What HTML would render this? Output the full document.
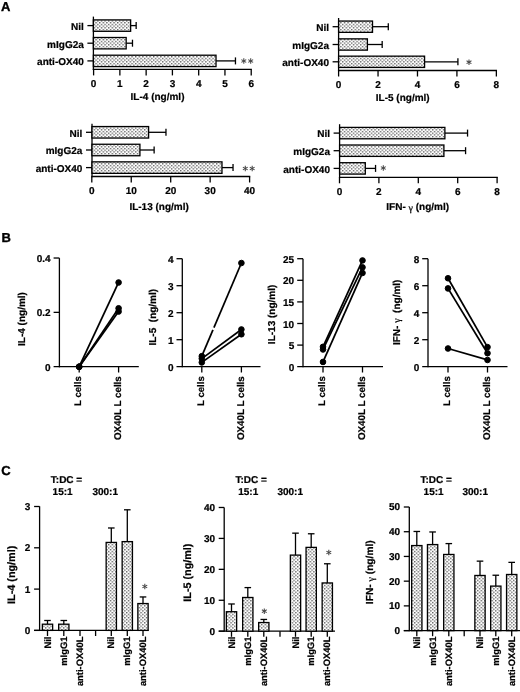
<!DOCTYPE html>
<html><head><meta charset="utf-8"><style>
html,body{margin:0;padding:0;background:#fff;}
body{width:520px;height:692px;overflow:hidden;}
svg{display:block;font-family:"Liberation Sans",sans-serif;text-rendering:geometricPrecision;filter:blur(0.3px);}
</style></head><body>
<svg width="520" height="692" viewBox="0 0 520 692">
<defs>
<pattern id="dots" patternUnits="userSpaceOnUse" width="3.6" height="3.4">
<rect width="3.6" height="3.4" fill="#fff"/>
<rect x="0" y="0" width="1.4" height="1.3" fill="#5c5c5c"/>
<rect x="1.8" y="1.7" width="1.4" height="1.3" fill="#5c5c5c"/>
</pattern>
</defs>
<rect width="520" height="692" fill="#fff"/>
<g stroke="#000" fill="#000" stroke-linecap="butt">
<text x="0.90" y="10.60" text-anchor="start" font-size="13" font-weight="bold" stroke="#000" stroke-width="0.35">A</text>
<line x1="93.40" y1="16.60" x2="93.40" y2="70.05" stroke-width="1.3"/>
<line x1="92.75" y1="69.40" x2="251.87" y2="69.40" stroke-width="1.3"/>
<line x1="93.60" y1="69.40" x2="93.60" y2="75.40" stroke-width="1.3"/>
<text x="93.60" y="87.20" text-anchor="middle" font-size="10" font-weight="bold" stroke="#000" stroke-width="0.22">0</text>
<line x1="119.87" y1="69.40" x2="119.87" y2="75.40" stroke-width="1.3"/>
<text x="119.87" y="87.20" text-anchor="middle" font-size="10" font-weight="bold" stroke="#000" stroke-width="0.22">1</text>
<line x1="146.14" y1="69.40" x2="146.14" y2="75.40" stroke-width="1.3"/>
<text x="146.14" y="87.20" text-anchor="middle" font-size="10" font-weight="bold" stroke="#000" stroke-width="0.22">2</text>
<line x1="172.41" y1="69.40" x2="172.41" y2="75.40" stroke-width="1.3"/>
<text x="172.41" y="87.20" text-anchor="middle" font-size="10" font-weight="bold" stroke="#000" stroke-width="0.22">3</text>
<line x1="198.68" y1="69.40" x2="198.68" y2="75.40" stroke-width="1.3"/>
<text x="198.68" y="87.20" text-anchor="middle" font-size="10" font-weight="bold" stroke="#000" stroke-width="0.22">4</text>
<line x1="224.95" y1="69.40" x2="224.95" y2="75.40" stroke-width="1.3"/>
<text x="224.95" y="87.20" text-anchor="middle" font-size="10" font-weight="bold" stroke="#000" stroke-width="0.22">5</text>
<line x1="251.22" y1="69.40" x2="251.22" y2="75.40" stroke-width="1.3"/>
<text x="251.22" y="87.20" text-anchor="middle" font-size="10" font-weight="bold" stroke="#000" stroke-width="0.22">6</text>
<line x1="87.40" y1="25.60" x2="93.40" y2="25.60" stroke-width="1.3"/>
<text x="83.80" y="29.90" text-anchor="end" font-size="10" font-weight="bold" stroke="#000" stroke-width="0.22">Nil</text>
<line x1="130.64" y1="25.60" x2="136.16" y2="25.60" stroke-width="1.3"/>
<line x1="136.16" y1="22.10" x2="136.16" y2="29.10" stroke-width="1.3"/>
<rect x="93.40" y="19.90" width="37.24" height="11.40" fill="url(#dots)" stroke="#000" stroke-width="1.3"/>
<line x1="87.40" y1="43.20" x2="93.40" y2="43.20" stroke-width="1.3"/>
<text x="83.80" y="47.50" text-anchor="end" font-size="10" font-weight="bold" stroke="#000" stroke-width="0.22">mIgG2a</text>
<line x1="126.17" y1="43.20" x2="132.48" y2="43.20" stroke-width="1.3"/>
<line x1="132.48" y1="39.70" x2="132.48" y2="46.70" stroke-width="1.3"/>
<rect x="93.40" y="37.50" width="32.77" height="11.40" fill="url(#dots)" stroke="#000" stroke-width="1.3"/>
<line x1="87.40" y1="60.90" x2="93.40" y2="60.90" stroke-width="1.3"/>
<text x="83.80" y="65.20" text-anchor="end" font-size="10" font-weight="bold" stroke="#000" stroke-width="0.22">anti-OX40</text>
<line x1="216.02" y1="60.90" x2="235.46" y2="60.90" stroke-width="1.3"/>
<line x1="235.46" y1="57.40" x2="235.46" y2="64.40" stroke-width="1.3"/>
<rect x="93.40" y="55.20" width="122.62" height="11.40" fill="url(#dots)" stroke="#000" stroke-width="1.3"/>
<text x="130.60" y="99.70" text-anchor="start" font-size="10" font-weight="bold" stroke="#000" stroke-width="0.22">IL-4 (ng/ml)</text>
<line x1="243.80" y1="58.20" x2="243.80" y2="63.80" stroke="#444" stroke-width="1.05"/>
<line x1="241.38" y1="59.60" x2="246.22" y2="62.40" stroke="#444" stroke-width="1.05"/>
<line x1="246.22" y1="59.60" x2="241.38" y2="62.40" stroke="#444" stroke-width="1.05"/>
<line x1="250.70" y1="58.20" x2="250.70" y2="63.80" stroke="#444" stroke-width="1.05"/>
<line x1="248.28" y1="59.60" x2="253.12" y2="62.40" stroke="#444" stroke-width="1.05"/>
<line x1="253.12" y1="59.60" x2="248.28" y2="62.40" stroke="#444" stroke-width="1.05"/>
<line x1="338.60" y1="18.00" x2="338.60" y2="71.15" stroke-width="1.3"/>
<line x1="337.95" y1="70.50" x2="497.01" y2="70.50" stroke-width="1.3"/>
<line x1="338.60" y1="70.50" x2="338.60" y2="76.50" stroke-width="1.3"/>
<text x="338.60" y="88.00" text-anchor="middle" font-size="10" font-weight="bold" stroke="#000" stroke-width="0.22">0</text>
<line x1="378.04" y1="70.50" x2="378.04" y2="76.50" stroke-width="1.3"/>
<text x="378.04" y="88.00" text-anchor="middle" font-size="10" font-weight="bold" stroke="#000" stroke-width="0.22">2</text>
<line x1="417.48" y1="70.50" x2="417.48" y2="76.50" stroke-width="1.3"/>
<text x="417.48" y="88.00" text-anchor="middle" font-size="10" font-weight="bold" stroke="#000" stroke-width="0.22">4</text>
<line x1="456.92" y1="70.50" x2="456.92" y2="76.50" stroke-width="1.3"/>
<text x="456.92" y="88.00" text-anchor="middle" font-size="10" font-weight="bold" stroke="#000" stroke-width="0.22">6</text>
<line x1="496.36" y1="70.50" x2="496.36" y2="76.50" stroke-width="1.3"/>
<text x="496.36" y="88.00" text-anchor="middle" font-size="10" font-weight="bold" stroke="#000" stroke-width="0.22">8</text>
<line x1="332.60" y1="26.70" x2="338.60" y2="26.70" stroke-width="1.3"/>
<text x="329.00" y="31.00" text-anchor="end" font-size="10" font-weight="bold" stroke="#000" stroke-width="0.22">Nil</text>
<line x1="372.52" y1="26.70" x2="388.29" y2="26.70" stroke-width="1.3"/>
<line x1="388.29" y1="23.20" x2="388.29" y2="30.20" stroke-width="1.3"/>
<rect x="338.60" y="21.05" width="33.92" height="11.30" fill="url(#dots)" stroke="#000" stroke-width="1.3"/>
<line x1="332.60" y1="44.50" x2="338.60" y2="44.50" stroke-width="1.3"/>
<text x="329.00" y="48.80" text-anchor="end" font-size="10" font-weight="bold" stroke="#000" stroke-width="0.22">mIgG2a</text>
<line x1="367.39" y1="44.50" x2="382.18" y2="44.50" stroke-width="1.3"/>
<line x1="382.18" y1="41.00" x2="382.18" y2="48.00" stroke-width="1.3"/>
<rect x="338.60" y="38.85" width="28.79" height="11.30" fill="url(#dots)" stroke="#000" stroke-width="1.3"/>
<line x1="332.60" y1="61.80" x2="338.60" y2="61.80" stroke-width="1.3"/>
<text x="329.00" y="66.10" text-anchor="end" font-size="10" font-weight="bold" stroke="#000" stroke-width="0.22">anti-OX40</text>
<line x1="424.58" y1="61.80" x2="457.91" y2="61.80" stroke-width="1.3"/>
<line x1="457.91" y1="58.30" x2="457.91" y2="65.30" stroke-width="1.3"/>
<rect x="338.60" y="56.15" width="85.98" height="11.30" fill="url(#dots)" stroke="#000" stroke-width="1.3"/>
<text x="375.80" y="101.40" text-anchor="start" font-size="10" font-weight="bold" stroke="#000" stroke-width="0.22">IL-5 (ng/ml)</text>
<line x1="469.00" y1="59.40" x2="469.00" y2="65.00" stroke="#444" stroke-width="1.05"/>
<line x1="466.58" y1="60.80" x2="471.42" y2="63.60" stroke="#444" stroke-width="1.05"/>
<line x1="471.42" y1="60.80" x2="466.58" y2="63.60" stroke="#444" stroke-width="1.05"/>
<line x1="92.00" y1="123.70" x2="92.00" y2="177.15" stroke-width="1.3"/>
<line x1="91.35" y1="176.50" x2="250.25" y2="176.50" stroke-width="1.3"/>
<line x1="91.80" y1="176.50" x2="91.80" y2="182.50" stroke-width="1.3"/>
<text x="91.80" y="194.20" text-anchor="middle" font-size="10" font-weight="bold" stroke="#000" stroke-width="0.22">0</text>
<line x1="131.25" y1="176.50" x2="131.25" y2="182.50" stroke-width="1.3"/>
<text x="131.25" y="194.20" text-anchor="middle" font-size="10" font-weight="bold" stroke="#000" stroke-width="0.22">10</text>
<line x1="170.70" y1="176.50" x2="170.70" y2="182.50" stroke-width="1.3"/>
<text x="170.70" y="194.20" text-anchor="middle" font-size="10" font-weight="bold" stroke="#000" stroke-width="0.22">20</text>
<line x1="210.15" y1="176.50" x2="210.15" y2="182.50" stroke-width="1.3"/>
<text x="210.15" y="194.20" text-anchor="middle" font-size="10" font-weight="bold" stroke="#000" stroke-width="0.22">30</text>
<line x1="249.60" y1="176.50" x2="249.60" y2="182.50" stroke-width="1.3"/>
<text x="249.60" y="194.20" text-anchor="middle" font-size="10" font-weight="bold" stroke="#000" stroke-width="0.22">40</text>
<line x1="86.00" y1="132.30" x2="92.00" y2="132.30" stroke-width="1.3"/>
<text x="82.40" y="136.60" text-anchor="end" font-size="10" font-weight="bold" stroke="#000" stroke-width="0.22">Nil</text>
<line x1="148.61" y1="132.30" x2="165.97" y2="132.30" stroke-width="1.3"/>
<line x1="165.97" y1="128.80" x2="165.97" y2="135.80" stroke-width="1.3"/>
<rect x="92.00" y="126.55" width="56.61" height="11.50" fill="url(#dots)" stroke="#000" stroke-width="1.3"/>
<line x1="86.00" y1="150.00" x2="92.00" y2="150.00" stroke-width="1.3"/>
<text x="82.40" y="154.30" text-anchor="end" font-size="10" font-weight="bold" stroke="#000" stroke-width="0.22">mIgG2a</text>
<line x1="139.93" y1="150.00" x2="154.13" y2="150.00" stroke-width="1.3"/>
<line x1="154.13" y1="146.50" x2="154.13" y2="153.50" stroke-width="1.3"/>
<rect x="92.00" y="144.25" width="47.93" height="11.50" fill="url(#dots)" stroke="#000" stroke-width="1.3"/>
<line x1="86.00" y1="167.60" x2="92.00" y2="167.60" stroke-width="1.3"/>
<text x="82.40" y="171.90" text-anchor="end" font-size="10" font-weight="bold" stroke="#000" stroke-width="0.22">anti-OX40</text>
<line x1="221.99" y1="167.60" x2="233.03" y2="167.60" stroke-width="1.3"/>
<line x1="233.03" y1="164.10" x2="233.03" y2="171.10" stroke-width="1.3"/>
<rect x="92.00" y="161.85" width="129.99" height="11.50" fill="url(#dots)" stroke="#000" stroke-width="1.3"/>
<text x="129.40" y="210.20" text-anchor="start" font-size="10" font-weight="bold" stroke="#000" stroke-width="0.22">IL-13 (ng/ml)</text>
<line x1="245.30" y1="165.70" x2="245.30" y2="171.30" stroke="#444" stroke-width="1.05"/>
<line x1="242.88" y1="167.10" x2="247.72" y2="169.90" stroke="#444" stroke-width="1.05"/>
<line x1="247.72" y1="167.10" x2="242.88" y2="169.90" stroke="#444" stroke-width="1.05"/>
<line x1="252.20" y1="165.70" x2="252.20" y2="171.30" stroke="#444" stroke-width="1.05"/>
<line x1="249.78" y1="167.10" x2="254.62" y2="169.90" stroke="#444" stroke-width="1.05"/>
<line x1="254.62" y1="167.10" x2="249.78" y2="169.90" stroke="#444" stroke-width="1.05"/>
<line x1="339.60" y1="124.20" x2="339.60" y2="177.95" stroke-width="1.3"/>
<line x1="338.95" y1="177.30" x2="497.75" y2="177.30" stroke-width="1.3"/>
<line x1="339.50" y1="177.30" x2="339.50" y2="183.30" stroke-width="1.3"/>
<text x="339.50" y="194.60" text-anchor="middle" font-size="10" font-weight="bold" stroke="#000" stroke-width="0.22">0</text>
<line x1="378.90" y1="177.30" x2="378.90" y2="183.30" stroke-width="1.3"/>
<text x="378.90" y="194.60" text-anchor="middle" font-size="10" font-weight="bold" stroke="#000" stroke-width="0.22">2</text>
<line x1="418.30" y1="177.30" x2="418.30" y2="183.30" stroke-width="1.3"/>
<text x="418.30" y="194.60" text-anchor="middle" font-size="10" font-weight="bold" stroke="#000" stroke-width="0.22">4</text>
<line x1="457.70" y1="177.30" x2="457.70" y2="183.30" stroke-width="1.3"/>
<text x="457.70" y="194.60" text-anchor="middle" font-size="10" font-weight="bold" stroke="#000" stroke-width="0.22">6</text>
<line x1="497.10" y1="177.30" x2="497.10" y2="183.30" stroke-width="1.3"/>
<text x="497.10" y="194.60" text-anchor="middle" font-size="10" font-weight="bold" stroke="#000" stroke-width="0.22">8</text>
<line x1="333.60" y1="133.10" x2="339.60" y2="133.10" stroke-width="1.3"/>
<text x="330.00" y="137.40" text-anchor="end" font-size="10" font-weight="bold" stroke="#000" stroke-width="0.22">Nil</text>
<line x1="444.89" y1="133.10" x2="467.55" y2="133.10" stroke-width="1.3"/>
<line x1="467.55" y1="129.60" x2="467.55" y2="136.60" stroke-width="1.3"/>
<rect x="339.60" y="127.40" width="105.29" height="11.40" fill="url(#dots)" stroke="#000" stroke-width="1.3"/>
<line x1="333.60" y1="150.70" x2="339.60" y2="150.70" stroke-width="1.3"/>
<text x="330.00" y="155.00" text-anchor="end" font-size="10" font-weight="bold" stroke="#000" stroke-width="0.22">mIgG2a</text>
<line x1="443.91" y1="150.70" x2="465.58" y2="150.70" stroke-width="1.3"/>
<line x1="465.58" y1="147.20" x2="465.58" y2="154.20" stroke-width="1.3"/>
<rect x="339.60" y="145.00" width="104.31" height="11.40" fill="url(#dots)" stroke="#000" stroke-width="1.3"/>
<line x1="333.60" y1="168.40" x2="339.60" y2="168.40" stroke-width="1.3"/>
<text x="330.00" y="172.70" text-anchor="end" font-size="10" font-weight="bold" stroke="#000" stroke-width="0.22">anti-OX40</text>
<line x1="365.31" y1="168.40" x2="375.55" y2="168.40" stroke-width="1.3"/>
<line x1="375.55" y1="164.90" x2="375.55" y2="171.90" stroke-width="1.3"/>
<rect x="339.60" y="162.70" width="25.71" height="11.40" fill="url(#dots)" stroke="#000" stroke-width="1.3"/>
<text x="386.30" y="210.40" text-anchor="start" font-size="10" font-weight="bold" stroke="#000" stroke-width="0.22">IFN- <tspan font-weight="normal" font-family="Liberation Serif" font-size="10" dy="0.6">γ</tspan><tspan dy="-0.6"> (ng/ml)</tspan></text>
<line x1="383.30" y1="165.20" x2="383.30" y2="170.80" stroke="#444" stroke-width="1.05"/>
<line x1="380.88" y1="166.60" x2="385.72" y2="169.40" stroke="#444" stroke-width="1.05"/>
<line x1="385.72" y1="166.60" x2="380.88" y2="169.40" stroke="#444" stroke-width="1.05"/>
<text x="1.60" y="241.80" text-anchor="start" font-size="13" font-weight="bold" stroke="#000" stroke-width="0.35">B</text>
<line x1="59.40" y1="258.10" x2="59.40" y2="367.35" stroke-width="1.3"/>
<line x1="53.60" y1="366.70" x2="138.80" y2="366.70" stroke-width="1.3"/>
<line x1="53.60" y1="312.36" x2="59.40" y2="312.36" stroke-width="1.3"/>
<text x="50.60" y="316.36" text-anchor="end" font-size="10" font-weight="bold" stroke="#000" stroke-width="0.22">0.2</text>
<line x1="53.60" y1="258.02" x2="59.40" y2="258.02" stroke-width="1.3"/>
<text x="50.60" y="262.02" text-anchor="end" font-size="10" font-weight="bold" stroke="#000" stroke-width="0.22">0.4</text>
<text x="50.60" y="370.70" text-anchor="end" font-size="10" font-weight="bold" stroke="#000" stroke-width="0.22">0</text>
<line x1="79.20" y1="366.70" x2="79.20" y2="372.50" stroke-width="1.3"/>
<line x1="118.60" y1="366.70" x2="118.60" y2="372.50" stroke-width="1.3"/>
<text x="81.50" y="376.20" text-anchor="end" font-size="9.6" font-weight="bold" stroke="#000" stroke-width="0.22" transform="rotate(-90 81.50 376.20)">L cells</text>
<text x="120.90" y="376.20" text-anchor="end" font-size="9.8" font-weight="bold" stroke="#000" stroke-width="0.22" transform="rotate(-90 120.90 376.20)">OX40L L cells</text>
<line x1="79.20" y1="366.70" x2="118.60" y2="282.47" stroke-width="1.75"/>
<line x1="79.20" y1="366.70" x2="118.60" y2="308.28" stroke-width="1.75"/>
<line x1="79.20" y1="366.70" x2="118.60" y2="311.54" stroke-width="1.75"/>
<circle cx="79.20" cy="366.70" r="2.8"/>
<circle cx="118.60" cy="282.47" r="2.8"/>
<circle cx="79.20" cy="366.70" r="2.8"/>
<circle cx="118.60" cy="308.28" r="2.8"/>
<circle cx="79.20" cy="366.70" r="2.8"/>
<circle cx="118.60" cy="311.54" r="2.8"/>
<text x="25.20" y="319.00" text-anchor="middle" font-size="10" font-weight="bold" stroke="#000" stroke-width="0.22" transform="rotate(-90 25.20 319.00)">IL-4 (ng/ml)</text>
<line x1="182.30" y1="258.80" x2="182.30" y2="367.35" stroke-width="1.3"/>
<line x1="176.50" y1="366.70" x2="260.50" y2="366.70" stroke-width="1.3"/>
<line x1="176.50" y1="339.70" x2="182.30" y2="339.70" stroke-width="1.3"/>
<text x="173.50" y="343.70" text-anchor="end" font-size="10" font-weight="bold" stroke="#000" stroke-width="0.22">1</text>
<line x1="176.50" y1="312.70" x2="182.30" y2="312.70" stroke-width="1.3"/>
<text x="173.50" y="316.70" text-anchor="end" font-size="10" font-weight="bold" stroke="#000" stroke-width="0.22">2</text>
<line x1="176.50" y1="285.70" x2="182.30" y2="285.70" stroke-width="1.3"/>
<text x="173.50" y="289.70" text-anchor="end" font-size="10" font-weight="bold" stroke="#000" stroke-width="0.22">3</text>
<line x1="176.50" y1="258.70" x2="182.30" y2="258.70" stroke-width="1.3"/>
<text x="173.50" y="262.70" text-anchor="end" font-size="10" font-weight="bold" stroke="#000" stroke-width="0.22">4</text>
<text x="173.50" y="370.70" text-anchor="end" font-size="10" font-weight="bold" stroke="#000" stroke-width="0.22">0</text>
<line x1="201.80" y1="366.70" x2="201.80" y2="372.50" stroke-width="1.3"/>
<line x1="241.40" y1="366.70" x2="241.40" y2="372.50" stroke-width="1.3"/>
<text x="204.10" y="376.20" text-anchor="end" font-size="9.6" font-weight="bold" stroke="#000" stroke-width="0.22" transform="rotate(-90 204.10 376.20)">L cells</text>
<text x="243.70" y="376.20" text-anchor="end" font-size="9.8" font-weight="bold" stroke="#000" stroke-width="0.22" transform="rotate(-90 243.70 376.20)">OX40L L cells</text>
<line x1="201.80" y1="356.17" x2="241.40" y2="263.02" stroke-width="1.75"/>
<line x1="201.80" y1="358.60" x2="241.40" y2="329.44" stroke-width="1.75"/>
<line x1="201.80" y1="362.38" x2="241.40" y2="334.30" stroke-width="1.75"/>
<circle cx="201.80" cy="356.17" r="2.8"/>
<circle cx="241.40" cy="263.02" r="2.8"/>
<circle cx="201.80" cy="358.60" r="2.8"/>
<circle cx="241.40" cy="329.44" r="2.8"/>
<circle cx="201.80" cy="362.38" r="2.8"/>
<circle cx="241.40" cy="334.30" r="2.8"/>
<text x="156.40" y="317.20" text-anchor="middle" font-size="10" font-weight="bold" stroke="#000" stroke-width="0.22" transform="rotate(-90 156.40 317.20)">IL-5&#160; (ng/ml)</text>
<line x1="212.97" y1="329.9" x2="213.95" y2="327.6" stroke="#fff" stroke-width="3"/>
<line x1="303.00" y1="258.80" x2="303.00" y2="367.35" stroke-width="1.3"/>
<line x1="297.20" y1="366.70" x2="383.00" y2="366.70" stroke-width="1.3"/>
<line x1="297.20" y1="345.10" x2="303.00" y2="345.10" stroke-width="1.3"/>
<text x="294.20" y="349.10" text-anchor="end" font-size="10" font-weight="bold" stroke="#000" stroke-width="0.22">5</text>
<line x1="297.20" y1="323.50" x2="303.00" y2="323.50" stroke-width="1.3"/>
<text x="294.20" y="327.50" text-anchor="end" font-size="10" font-weight="bold" stroke="#000" stroke-width="0.22">10</text>
<line x1="297.20" y1="301.90" x2="303.00" y2="301.90" stroke-width="1.3"/>
<text x="294.20" y="305.90" text-anchor="end" font-size="10" font-weight="bold" stroke="#000" stroke-width="0.22">15</text>
<line x1="297.20" y1="280.30" x2="303.00" y2="280.30" stroke-width="1.3"/>
<text x="294.20" y="284.30" text-anchor="end" font-size="10" font-weight="bold" stroke="#000" stroke-width="0.22">20</text>
<line x1="297.20" y1="258.70" x2="303.00" y2="258.70" stroke-width="1.3"/>
<text x="294.20" y="262.70" text-anchor="end" font-size="10" font-weight="bold" stroke="#000" stroke-width="0.22">25</text>
<text x="294.20" y="370.70" text-anchor="end" font-size="10" font-weight="bold" stroke="#000" stroke-width="0.22">0</text>
<line x1="323.00" y1="366.70" x2="323.00" y2="372.50" stroke-width="1.3"/>
<line x1="362.50" y1="366.70" x2="362.50" y2="372.50" stroke-width="1.3"/>
<text x="325.30" y="376.20" text-anchor="end" font-size="9.6" font-weight="bold" stroke="#000" stroke-width="0.22" transform="rotate(-90 325.30 376.20)">L cells</text>
<text x="364.80" y="376.20" text-anchor="end" font-size="9.8" font-weight="bold" stroke="#000" stroke-width="0.22" transform="rotate(-90 364.80 376.20)">OX40L L cells</text>
<line x1="323.00" y1="346.83" x2="362.50" y2="260.43" stroke-width="1.75"/>
<line x1="323.00" y1="349.42" x2="362.50" y2="267.34" stroke-width="1.75"/>
<line x1="323.00" y1="361.95" x2="362.50" y2="272.96" stroke-width="1.75"/>
<circle cx="323.00" cy="346.83" r="2.8"/>
<circle cx="362.50" cy="260.43" r="2.8"/>
<circle cx="323.00" cy="349.42" r="2.8"/>
<circle cx="362.50" cy="267.34" r="2.8"/>
<circle cx="323.00" cy="361.95" r="2.8"/>
<circle cx="362.50" cy="272.96" r="2.8"/>
<text x="275.20" y="314.40" text-anchor="middle" font-size="10" font-weight="bold" stroke="#000" stroke-width="0.22" transform="rotate(-90 275.20 314.40)">IL-13 (ng/ml)</text>
<line x1="428.00" y1="258.80" x2="428.00" y2="367.35" stroke-width="1.3"/>
<line x1="422.20" y1="366.70" x2="507.50" y2="366.70" stroke-width="1.3"/>
<line x1="422.20" y1="339.70" x2="428.00" y2="339.70" stroke-width="1.3"/>
<text x="419.20" y="343.70" text-anchor="end" font-size="10" font-weight="bold" stroke="#000" stroke-width="0.22">2</text>
<line x1="422.20" y1="312.70" x2="428.00" y2="312.70" stroke-width="1.3"/>
<text x="419.20" y="316.70" text-anchor="end" font-size="10" font-weight="bold" stroke="#000" stroke-width="0.22">4</text>
<line x1="422.20" y1="285.70" x2="428.00" y2="285.70" stroke-width="1.3"/>
<text x="419.20" y="289.70" text-anchor="end" font-size="10" font-weight="bold" stroke="#000" stroke-width="0.22">6</text>
<line x1="422.20" y1="258.70" x2="428.00" y2="258.70" stroke-width="1.3"/>
<text x="419.20" y="262.70" text-anchor="end" font-size="10" font-weight="bold" stroke="#000" stroke-width="0.22">8</text>
<text x="419.20" y="370.70" text-anchor="end" font-size="10" font-weight="bold" stroke="#000" stroke-width="0.22">0</text>
<line x1="448.00" y1="366.70" x2="448.00" y2="372.50" stroke-width="1.3"/>
<line x1="487.50" y1="366.70" x2="487.50" y2="372.50" stroke-width="1.3"/>
<text x="450.30" y="376.20" text-anchor="end" font-size="9.6" font-weight="bold" stroke="#000" stroke-width="0.22" transform="rotate(-90 450.30 376.20)">L cells</text>
<text x="489.80" y="376.20" text-anchor="end" font-size="9.8" font-weight="bold" stroke="#000" stroke-width="0.22" transform="rotate(-90 489.80 376.20)">OX40L L cells</text>
<line x1="448.00" y1="278.27" x2="487.50" y2="347.12" stroke-width="1.75"/>
<line x1="448.00" y1="288.40" x2="487.50" y2="353.20" stroke-width="1.75"/>
<line x1="448.00" y1="348.47" x2="487.50" y2="359.95" stroke-width="1.75"/>
<circle cx="448.00" cy="278.27" r="2.8"/>
<circle cx="487.50" cy="347.12" r="2.8"/>
<circle cx="448.00" cy="288.40" r="2.8"/>
<circle cx="487.50" cy="353.20" r="2.8"/>
<circle cx="448.00" cy="348.47" r="2.8"/>
<circle cx="487.50" cy="359.95" r="2.8"/>
<text x="399.90" y="312.30" text-anchor="middle" font-size="10" font-weight="bold" stroke="#000" stroke-width="0.22" transform="rotate(-90 399.90 312.30)">IFN- <tspan font-weight="normal" font-family="Liberation Serif" font-size="10" dy="0.6">γ</tspan><tspan dy="-0.6">&#160; (ng/ml)</tspan></text>
<text x="1.30" y="474.60" text-anchor="start" font-size="13" font-weight="bold" stroke="#000" stroke-width="0.35">C</text>
<line x1="39.60" y1="506.30" x2="39.60" y2="631.05" stroke-width="1.3"/>
<line x1="34.10" y1="630.40" x2="148.50" y2="630.40" stroke-width="1.3"/>
<line x1="34.10" y1="630.40" x2="39.60" y2="630.40" stroke-width="1.3"/>
<text x="30.40" y="633.80" text-anchor="end" font-size="10" font-weight="bold" stroke="#000" stroke-width="0.22">0</text>
<line x1="34.10" y1="589.10" x2="39.60" y2="589.10" stroke-width="1.3"/>
<text x="30.40" y="592.50" text-anchor="end" font-size="10" font-weight="bold" stroke="#000" stroke-width="0.22">1</text>
<line x1="34.10" y1="547.80" x2="39.60" y2="547.80" stroke-width="1.3"/>
<text x="30.40" y="551.20" text-anchor="end" font-size="10" font-weight="bold" stroke="#000" stroke-width="0.22">2</text>
<line x1="34.10" y1="506.50" x2="39.60" y2="506.50" stroke-width="1.3"/>
<text x="30.40" y="509.90" text-anchor="end" font-size="10" font-weight="bold" stroke="#000" stroke-width="0.22">3</text>
<line x1="47.50" y1="630.40" x2="47.50" y2="636.00" stroke-width="1.3"/>
<line x1="63.80" y1="630.40" x2="63.80" y2="636.00" stroke-width="1.3"/>
<line x1="80.00" y1="630.40" x2="80.00" y2="636.00" stroke-width="1.3"/>
<line x1="95.60" y1="630.40" x2="95.60" y2="636.00" stroke-width="1.3"/>
<line x1="111.30" y1="630.40" x2="111.30" y2="636.00" stroke-width="1.3"/>
<line x1="127.30" y1="630.40" x2="127.30" y2="636.00" stroke-width="1.3"/>
<line x1="143.00" y1="630.40" x2="143.00" y2="636.00" stroke-width="1.3"/>
<text x="50.70" y="636.60" text-anchor="end" font-size="9.4" font-weight="bold" stroke="#000" stroke-width="0.22" transform="rotate(-90 50.70 636.60)">Nil</text>
<text x="67.00" y="636.60" text-anchor="end" font-size="9.4" font-weight="bold" stroke="#000" stroke-width="0.22" transform="rotate(-90 67.00 636.60)">mIgG1</text>
<text x="83.20" y="636.60" text-anchor="end" font-size="9.4" font-weight="bold" stroke="#000" stroke-width="0.22" transform="rotate(-90 83.20 636.60)">anti-OX40L</text>
<text x="114.50" y="636.60" text-anchor="end" font-size="9.4" font-weight="bold" stroke="#000" stroke-width="0.22" transform="rotate(-90 114.50 636.60)">Nil</text>
<text x="130.50" y="636.60" text-anchor="end" font-size="9.4" font-weight="bold" stroke="#000" stroke-width="0.22" transform="rotate(-90 130.50 636.60)">mIgG1</text>
<text x="146.20" y="636.60" text-anchor="end" font-size="9.4" font-weight="bold" stroke="#000" stroke-width="0.22" transform="rotate(-90 146.20 636.60)">anti-OX40L</text>
<line x1="47.50" y1="624.20" x2="47.50" y2="620.49" stroke-width="1.3"/>
<line x1="44.20" y1="620.49" x2="50.80" y2="620.49" stroke-width="1.3"/>
<rect x="42.35" y="624.20" width="10.30" height="6.20" fill="url(#dots)" stroke="#000" stroke-width="1.3"/>
<line x1="63.80" y1="624.20" x2="63.80" y2="620.49" stroke-width="1.3"/>
<line x1="60.50" y1="620.49" x2="67.10" y2="620.49" stroke-width="1.3"/>
<rect x="58.65" y="624.20" width="10.30" height="6.20" fill="url(#dots)" stroke="#000" stroke-width="1.3"/>
<line x1="111.30" y1="542.43" x2="111.30" y2="527.98" stroke-width="1.3"/>
<line x1="108.00" y1="527.98" x2="114.60" y2="527.98" stroke-width="1.3"/>
<rect x="106.15" y="542.43" width="10.30" height="87.97" fill="url(#dots)" stroke="#000" stroke-width="1.3"/>
<line x1="127.30" y1="541.61" x2="127.30" y2="509.80" stroke-width="1.3"/>
<line x1="124.00" y1="509.80" x2="130.60" y2="509.80" stroke-width="1.3"/>
<rect x="122.15" y="541.61" width="10.30" height="88.79" fill="url(#dots)" stroke="#000" stroke-width="1.3"/>
<line x1="143.00" y1="603.55" x2="143.00" y2="596.95" stroke-width="1.3"/>
<line x1="139.70" y1="596.95" x2="146.30" y2="596.95" stroke-width="1.3"/>
<rect x="137.85" y="603.55" width="10.30" height="26.85" fill="url(#dots)" stroke="#000" stroke-width="1.3"/>
<text x="14.60" y="574.80" text-anchor="middle" font-size="10.8" font-weight="bold" stroke="#000" stroke-width="0.22" transform="rotate(-90 14.60 574.80)">IL-4 (ng/ml)</text>
<text x="50.80" y="482.50" text-anchor="start" font-size="10" font-weight="bold" stroke="#000" stroke-width="0.22">T:DC =</text>
<text x="52.60" y="494.50" text-anchor="start" font-size="10" font-weight="bold" stroke="#000" stroke-width="0.22">15:1</text>
<text x="92.40" y="494.50" text-anchor="start" font-size="10" font-weight="bold" stroke="#000" stroke-width="0.22">300:1</text>
<line x1="144.80" y1="583.70" x2="144.80" y2="589.30" stroke="#444" stroke-width="1.05"/>
<line x1="142.38" y1="585.10" x2="147.22" y2="587.90" stroke="#444" stroke-width="1.05"/>
<line x1="147.22" y1="585.10" x2="142.38" y2="587.90" stroke="#444" stroke-width="1.05"/>
<line x1="224.20" y1="507.50" x2="224.20" y2="631.85" stroke-width="1.3"/>
<line x1="218.70" y1="631.20" x2="335.00" y2="631.20" stroke-width="1.3"/>
<line x1="218.70" y1="631.20" x2="224.20" y2="631.20" stroke-width="1.3"/>
<text x="215.00" y="634.60" text-anchor="end" font-size="10" font-weight="bold" stroke="#000" stroke-width="0.22">0</text>
<line x1="218.70" y1="600.27" x2="224.20" y2="600.27" stroke-width="1.3"/>
<text x="215.00" y="603.67" text-anchor="end" font-size="10" font-weight="bold" stroke="#000" stroke-width="0.22">10</text>
<line x1="218.70" y1="569.34" x2="224.20" y2="569.34" stroke-width="1.3"/>
<text x="215.00" y="572.74" text-anchor="end" font-size="10" font-weight="bold" stroke="#000" stroke-width="0.22">20</text>
<line x1="218.70" y1="538.41" x2="224.20" y2="538.41" stroke-width="1.3"/>
<text x="215.00" y="541.81" text-anchor="end" font-size="10" font-weight="bold" stroke="#000" stroke-width="0.22">30</text>
<line x1="218.70" y1="507.48" x2="224.20" y2="507.48" stroke-width="1.3"/>
<text x="215.00" y="510.88" text-anchor="end" font-size="10" font-weight="bold" stroke="#000" stroke-width="0.22">40</text>
<line x1="231.50" y1="631.20" x2="231.50" y2="636.80" stroke-width="1.3"/>
<line x1="247.80" y1="631.20" x2="247.80" y2="636.80" stroke-width="1.3"/>
<line x1="263.80" y1="631.20" x2="263.80" y2="636.80" stroke-width="1.3"/>
<line x1="280.00" y1="631.20" x2="280.00" y2="636.80" stroke-width="1.3"/>
<line x1="295.50" y1="631.20" x2="295.50" y2="636.80" stroke-width="1.3"/>
<line x1="311.20" y1="631.20" x2="311.20" y2="636.80" stroke-width="1.3"/>
<line x1="327.30" y1="631.20" x2="327.30" y2="636.80" stroke-width="1.3"/>
<text x="234.70" y="636.60" text-anchor="end" font-size="9.4" font-weight="bold" stroke="#000" stroke-width="0.22" transform="rotate(-90 234.70 636.60)">Nil</text>
<text x="251.00" y="636.60" text-anchor="end" font-size="9.4" font-weight="bold" stroke="#000" stroke-width="0.22" transform="rotate(-90 251.00 636.60)">mIgG1</text>
<text x="267.00" y="636.60" text-anchor="end" font-size="9.4" font-weight="bold" stroke="#000" stroke-width="0.22" transform="rotate(-90 267.00 636.60)">anti-OX40L</text>
<text x="298.70" y="636.60" text-anchor="end" font-size="9.4" font-weight="bold" stroke="#000" stroke-width="0.22" transform="rotate(-90 298.70 636.60)">Nil</text>
<text x="314.40" y="636.60" text-anchor="end" font-size="9.4" font-weight="bold" stroke="#000" stroke-width="0.22" transform="rotate(-90 314.40 636.60)">mIgG1</text>
<text x="330.50" y="636.60" text-anchor="end" font-size="9.4" font-weight="bold" stroke="#000" stroke-width="0.22" transform="rotate(-90 330.50 636.60)">anti-OX40L</text>
<line x1="231.50" y1="611.71" x2="231.50" y2="603.98" stroke-width="1.3"/>
<line x1="228.20" y1="603.98" x2="234.80" y2="603.98" stroke-width="1.3"/>
<rect x="226.35" y="611.71" width="10.30" height="19.49" fill="url(#dots)" stroke="#000" stroke-width="1.3"/>
<line x1="247.80" y1="597.49" x2="247.80" y2="587.59" stroke-width="1.3"/>
<line x1="244.50" y1="587.59" x2="251.10" y2="587.59" stroke-width="1.3"/>
<rect x="242.65" y="597.49" width="10.30" height="33.71" fill="url(#dots)" stroke="#000" stroke-width="1.3"/>
<line x1="263.80" y1="622.54" x2="263.80" y2="619.45" stroke-width="1.3"/>
<line x1="260.50" y1="619.45" x2="267.10" y2="619.45" stroke-width="1.3"/>
<rect x="258.65" y="622.54" width="10.30" height="8.66" fill="url(#dots)" stroke="#000" stroke-width="1.3"/>
<line x1="295.50" y1="555.11" x2="295.50" y2="533.15" stroke-width="1.3"/>
<line x1="292.20" y1="533.15" x2="298.80" y2="533.15" stroke-width="1.3"/>
<rect x="290.35" y="555.11" width="10.30" height="76.09" fill="url(#dots)" stroke="#000" stroke-width="1.3"/>
<line x1="311.20" y1="547.38" x2="311.20" y2="533.77" stroke-width="1.3"/>
<line x1="307.90" y1="533.77" x2="314.50" y2="533.77" stroke-width="1.3"/>
<rect x="306.05" y="547.38" width="10.30" height="83.82" fill="url(#dots)" stroke="#000" stroke-width="1.3"/>
<line x1="327.30" y1="582.95" x2="327.30" y2="563.77" stroke-width="1.3"/>
<line x1="324.00" y1="563.77" x2="330.60" y2="563.77" stroke-width="1.3"/>
<rect x="322.15" y="582.95" width="10.30" height="48.25" fill="url(#dots)" stroke="#000" stroke-width="1.3"/>
<text x="190.70" y="572.60" text-anchor="middle" font-size="10.8" font-weight="bold" stroke="#000" stroke-width="0.22" transform="rotate(-90 190.70 572.60)">IL-5 (ng/ml)</text>
<text x="235.40" y="483.40" text-anchor="start" font-size="10" font-weight="bold" stroke="#000" stroke-width="0.22">T:DC =</text>
<text x="238.20" y="495.30" text-anchor="start" font-size="10" font-weight="bold" stroke="#000" stroke-width="0.22">15:1</text>
<text x="277.40" y="495.30" text-anchor="start" font-size="10" font-weight="bold" stroke="#000" stroke-width="0.22">300:1</text>
<line x1="264.30" y1="608.40" x2="264.30" y2="614.00" stroke="#444" stroke-width="1.05"/>
<line x1="261.88" y1="609.80" x2="266.72" y2="612.60" stroke="#444" stroke-width="1.05"/>
<line x1="266.72" y1="609.80" x2="261.88" y2="612.60" stroke="#444" stroke-width="1.05"/>
<line x1="328.80" y1="549.70" x2="328.80" y2="555.30" stroke="#444" stroke-width="1.05"/>
<line x1="326.38" y1="551.10" x2="331.22" y2="553.90" stroke="#444" stroke-width="1.05"/>
<line x1="331.22" y1="551.10" x2="326.38" y2="553.90" stroke="#444" stroke-width="1.05"/>
<line x1="409.30" y1="507.00" x2="409.30" y2="631.25" stroke-width="1.3"/>
<line x1="403.80" y1="630.60" x2="520.00" y2="630.60" stroke-width="1.3"/>
<line x1="403.80" y1="630.60" x2="409.30" y2="630.60" stroke-width="1.3"/>
<text x="400.10" y="634.00" text-anchor="end" font-size="10" font-weight="bold" stroke="#000" stroke-width="0.22">0</text>
<line x1="403.80" y1="605.88" x2="409.30" y2="605.88" stroke-width="1.3"/>
<text x="400.10" y="609.28" text-anchor="end" font-size="10" font-weight="bold" stroke="#000" stroke-width="0.22">10</text>
<line x1="403.80" y1="581.16" x2="409.30" y2="581.16" stroke-width="1.3"/>
<text x="400.10" y="584.56" text-anchor="end" font-size="10" font-weight="bold" stroke="#000" stroke-width="0.22">20</text>
<line x1="403.80" y1="556.44" x2="409.30" y2="556.44" stroke-width="1.3"/>
<text x="400.10" y="559.84" text-anchor="end" font-size="10" font-weight="bold" stroke="#000" stroke-width="0.22">30</text>
<line x1="403.80" y1="531.72" x2="409.30" y2="531.72" stroke-width="1.3"/>
<text x="400.10" y="535.12" text-anchor="end" font-size="10" font-weight="bold" stroke="#000" stroke-width="0.22">40</text>
<line x1="403.80" y1="507.00" x2="409.30" y2="507.00" stroke-width="1.3"/>
<text x="400.10" y="510.40" text-anchor="end" font-size="10" font-weight="bold" stroke="#000" stroke-width="0.22">50</text>
<line x1="416.80" y1="630.60" x2="416.80" y2="636.20" stroke-width="1.3"/>
<line x1="432.60" y1="630.60" x2="432.60" y2="636.20" stroke-width="1.3"/>
<line x1="448.80" y1="630.60" x2="448.80" y2="636.20" stroke-width="1.3"/>
<line x1="464.20" y1="630.60" x2="464.20" y2="636.20" stroke-width="1.3"/>
<line x1="480.00" y1="630.60" x2="480.00" y2="636.20" stroke-width="1.3"/>
<line x1="495.80" y1="630.60" x2="495.80" y2="636.20" stroke-width="1.3"/>
<line x1="511.70" y1="630.60" x2="511.70" y2="636.20" stroke-width="1.3"/>
<text x="420.00" y="636.60" text-anchor="end" font-size="9.4" font-weight="bold" stroke="#000" stroke-width="0.22" transform="rotate(-90 420.00 636.60)">Nil</text>
<text x="435.80" y="636.60" text-anchor="end" font-size="9.4" font-weight="bold" stroke="#000" stroke-width="0.22" transform="rotate(-90 435.80 636.60)">mIgG1</text>
<text x="452.00" y="636.60" text-anchor="end" font-size="9.4" font-weight="bold" stroke="#000" stroke-width="0.22" transform="rotate(-90 452.00 636.60)">anti-OX40L</text>
<text x="483.20" y="636.60" text-anchor="end" font-size="9.4" font-weight="bold" stroke="#000" stroke-width="0.22" transform="rotate(-90 483.20 636.60)">Nil</text>
<text x="499.00" y="636.60" text-anchor="end" font-size="9.4" font-weight="bold" stroke="#000" stroke-width="0.22" transform="rotate(-90 499.00 636.60)">mIgG1</text>
<text x="514.90" y="636.60" text-anchor="end" font-size="9.4" font-weight="bold" stroke="#000" stroke-width="0.22" transform="rotate(-90 514.90 636.60)">anti-OX40L</text>
<line x1="416.80" y1="545.56" x2="416.80" y2="531.47" stroke-width="1.3"/>
<line x1="413.50" y1="531.47" x2="420.10" y2="531.47" stroke-width="1.3"/>
<rect x="411.65" y="545.56" width="10.30" height="85.04" fill="url(#dots)" stroke="#000" stroke-width="1.3"/>
<line x1="432.60" y1="544.57" x2="432.60" y2="531.97" stroke-width="1.3"/>
<line x1="429.30" y1="531.97" x2="435.90" y2="531.97" stroke-width="1.3"/>
<rect x="427.45" y="544.57" width="10.30" height="86.03" fill="url(#dots)" stroke="#000" stroke-width="1.3"/>
<line x1="448.80" y1="554.46" x2="448.80" y2="543.59" stroke-width="1.3"/>
<line x1="445.50" y1="543.59" x2="452.10" y2="543.59" stroke-width="1.3"/>
<rect x="443.65" y="554.46" width="10.30" height="76.14" fill="url(#dots)" stroke="#000" stroke-width="1.3"/>
<line x1="480.00" y1="575.47" x2="480.00" y2="561.14" stroke-width="1.3"/>
<line x1="476.70" y1="561.14" x2="483.30" y2="561.14" stroke-width="1.3"/>
<rect x="474.85" y="575.47" width="10.30" height="55.13" fill="url(#dots)" stroke="#000" stroke-width="1.3"/>
<line x1="495.80" y1="586.10" x2="495.80" y2="575.23" stroke-width="1.3"/>
<line x1="492.50" y1="575.23" x2="499.10" y2="575.23" stroke-width="1.3"/>
<rect x="490.65" y="586.10" width="10.30" height="44.50" fill="url(#dots)" stroke="#000" stroke-width="1.3"/>
<line x1="511.70" y1="574.49" x2="511.70" y2="562.37" stroke-width="1.3"/>
<line x1="508.40" y1="562.37" x2="515.00" y2="562.37" stroke-width="1.3"/>
<rect x="506.55" y="574.49" width="10.30" height="56.11" fill="url(#dots)" stroke="#000" stroke-width="1.3"/>
<text x="373.20" y="572.20" text-anchor="middle" font-size="10.2" font-weight="bold" stroke="#000" stroke-width="0.22" transform="rotate(-90 373.20 572.20)">IFN- <tspan font-weight="normal" font-family="Liberation Serif" font-size="10" dy="0.6">γ</tspan><tspan dy="-0.6"> (ng/ml)</tspan></text>
<text x="420.40" y="482.70" text-anchor="start" font-size="10" font-weight="bold" stroke="#000" stroke-width="0.22">T:DC =</text>
<text x="423.60" y="494.90" text-anchor="start" font-size="10" font-weight="bold" stroke="#000" stroke-width="0.22">15:1</text>
<text x="462.40" y="494.90" text-anchor="start" font-size="10" font-weight="bold" stroke="#000" stroke-width="0.22">300:1</text>
</g>
</svg>
</body></html>
